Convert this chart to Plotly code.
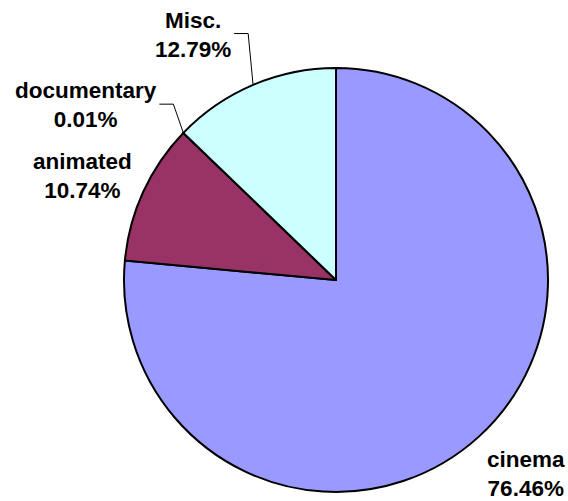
import numpy as np
import plotly.graph_objects as go

# ---- data ----
categories = ["cinema", "animated", "documentary", "Misc."]
values = [76.46, 10.74, 0.01, 12.79]
colors = ["#9999FF", "#993366", "#FFFFCC", "#CCFFFF"]

# ---- layout geometry (pixels) ----
W, H = 568, 501
cx, cy, R = 336, 280, 212
FS = 22.5
# per-label placement tweaks: (radius factor, angle offset deg, leader line?)
placement = {
    "cinema": (1.28, -2.0, False),
    "animated": (1.29, -2.3, False),
    "documentary": (1.44, -9.0, True),
    "Misc.": (1.34, -7.2, True),
}
AW = {**{d: 556 for d in "0123456789"}, ".": 278, "%": 889, "a": 556, "c": 556,
      "d": 611, "e": 556, "i": 278, "m": 889, "n": 611, "o": 611, "r": 389,
      "s": 556, "t": 333, "u": 611, "y": 556, "M": 833, " ": 278}


def tw(s):
    return sum(AW.get(ch, 600) for ch in s) / 1000 * FS


def px(x):
    return x / W


def py(y):
    return 1 - y / H


total = sum(values)
fracs = np.array(values) / total
ends = np.cumsum(fracs) * 360
starts = ends - fracs * 360

fig = go.Figure(go.Pie(
    labels=categories, values=values, sort=False, direction="clockwise",
    rotation=0, textinfo="none", hoverinfo="label+percent",
    marker=dict(colors=colors, line=dict(color="black", width=2)),
    domain=dict(x=[(cx - R) / W, (cx + R) / W], y=[(H - cy - R) / H, (H - cy + R) / H]),
    showlegend=False,
))

annotations = []
shapes = []
for i, cat in enumerate(categories):
    mid = (starts[i] + ends[i]) / 2
    rf, off, leader = placement[cat]
    a = np.radians(mid + off)
    lx = cx + rf * R * np.sin(a)
    ly = cy - rf * R * np.cos(a)
    pct = f"{values[i] / total * 100:.2f}%"
    annotations.append(dict(
        x=px(lx), y=py(ly), xref="paper", yref="paper", showarrow=False,
        xanchor="center", yanchor="middle",
        text=f"<b>{cat}</b><br><b>{pct}</b>",
        font=dict(family="Liberation Sans, Arial", size=FS, color="black"),
    ))
    if leader:
        right = lx + max(tw(cat), tw(pct)) / 2
        am = np.radians(mid)
        ex = cx + R * np.sin(am)
        ey = cy - R * np.cos(am)
        path = (f"M {px(right + 3)},{py(ly - 1)} L {px(right + 17)},{py(ly - 1)} "
                f"L {px(ex)},{py(ey)}")
        shapes.append(dict(type="path", path=path, xref="paper", yref="paper",
                           line=dict(color="black", width=1)))

fig.update_layout(
    width=W, height=H, autosize=False,
    margin=dict(l=0, r=0, t=0, b=0),
    paper_bgcolor="white", plot_bgcolor="white",
    annotations=annotations, shapes=shapes,
)

fig.write_html(
    "out.html",
    config={"displayModeBar": False},
    post_script="document.body.style.margin='0px';document.body.style.overflow='hidden';",
)
